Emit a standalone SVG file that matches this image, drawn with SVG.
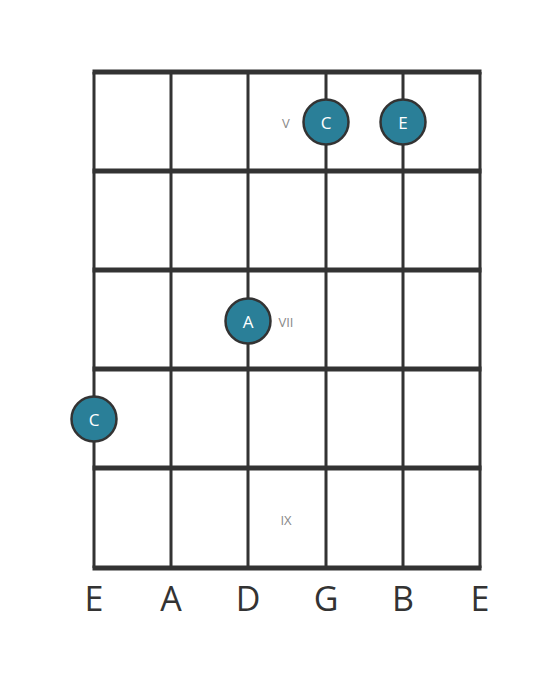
<svg xmlns="http://www.w3.org/2000/svg" width="560" height="682" viewBox="0 0 560 682">
<style>
.s{stroke:#333;stroke-width:3}
.f{stroke:#333;stroke-width:5}
.n circle{fill:#2a7f98;stroke:#333;stroke-width:2.5}
.n text{fill:#fff;font-family:"Open Sans",sans-serif;font-size:17px;text-anchor:middle;dominant-baseline:central}
.fl{fill:#888;font-family:"Open Sans",sans-serif;font-size:13px;text-anchor:middle;dominant-baseline:central}
.sl{fill:#333;font-family:"Open Sans",sans-serif;font-size:34px;text-anchor:middle}
</style>
<rect width="560" height="682" fill="#fff"/>
<g id="connectors">
<line class="s" x1="94" y1="72" x2="94" y2="568"/>
<line class="s" x1="171" y1="72" x2="171" y2="568"/>
<line class="s" x1="248" y1="72" x2="248" y2="568"/>
<line class="s" x1="326" y1="72" x2="326" y2="568"/>
<line class="s" x1="403" y1="72" x2="403" y2="568"/>
<line class="s" x1="480" y1="72" x2="480" y2="568"/>
<line class="f" x1="92.5" y1="72" x2="481.5" y2="72"/>
<line class="f" x1="92.5" y1="171" x2="481.5" y2="171"/>
<line class="f" x1="92.5" y1="270" x2="481.5" y2="270"/>
<line class="f" x1="92.5" y1="369" x2="481.5" y2="369"/>
<line class="f" x1="92.5" y1="468" x2="481.5" y2="468"/>
<line class="f" x1="92.5" y1="568" x2="481.5" y2="568"/>
</g>
<g id="fret-labels">
<text class="fl" x="286" y="123">V</text>
<text class="fl" x="286" y="322">VII</text>
<text class="fl" x="286" y="520">IX</text>
</g>
<g id="note-C1" class="n"><circle cx="326" cy="122" r="22.5"/><text x="326" y="122">C</text></g>
<g id="note-E" class="n"><circle cx="403" cy="122" r="22.5"/><text x="403" y="122">E</text></g>
<g id="note-A" class="n"><circle cx="248" cy="321" r="22.5"/><text x="248" y="321">A</text></g>
<g id="note-C2" class="n"><circle cx="94" cy="419" r="22.5"/><text x="94" y="419">C</text></g>
<g id="string-labels">
<text class="sl" x="94" y="611">E</text>
<text class="sl" x="171" y="611">A</text>
<text class="sl" x="248" y="611">D</text>
<text class="sl" x="326" y="611">G</text>
<text class="sl" x="403" y="611">B</text>
<text class="sl" x="480" y="611">E</text>
</g>
</svg>
